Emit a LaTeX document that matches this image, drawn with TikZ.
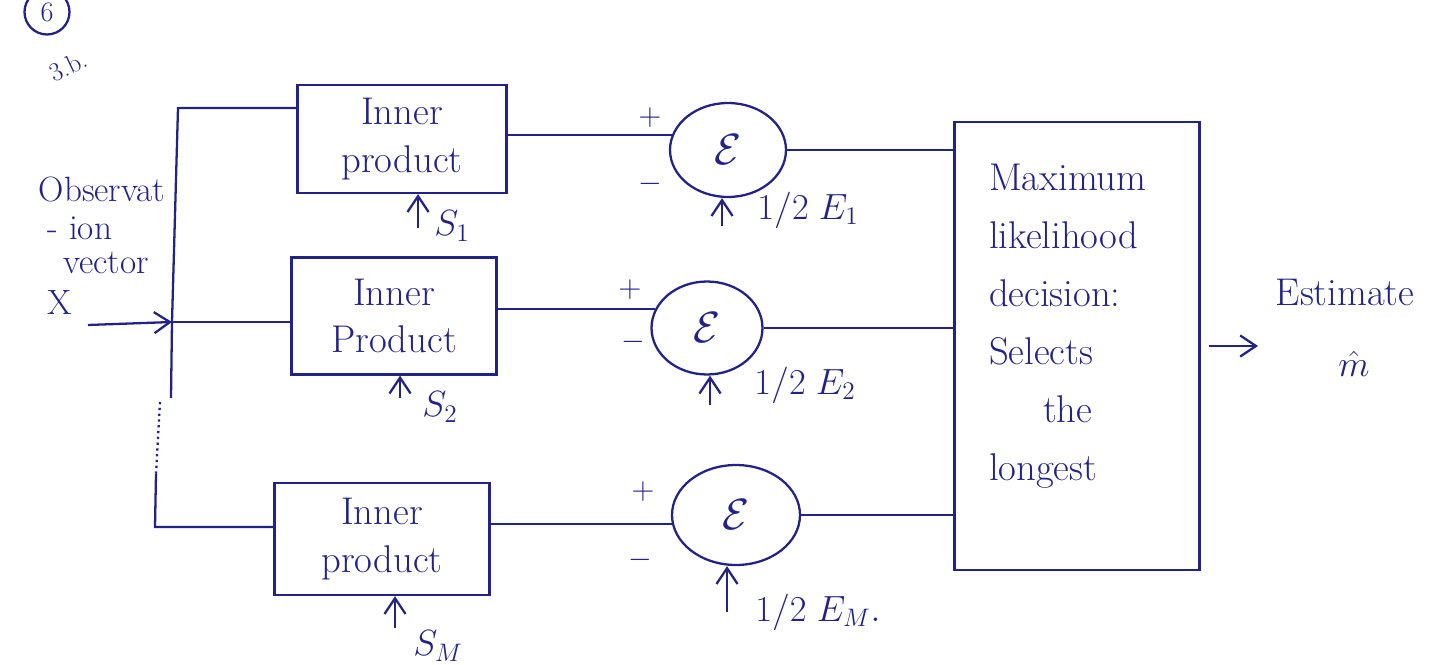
\documentclass[tikz,border=0pt]{standalone}
\usetikzlibrary{arrows.meta,shapes.geometric}
\definecolor{ink}{RGB}{35,35,135}
\begin{document}
\begin{tikzpicture}[x=0.02cm,y=-0.02cm, line width=1.3pt, ink,
  every node/.style={text=ink, font=\fontsize{22}{27}\selectfont},
  box/.style={draw, rectangle, align=center, inner sep=0pt},
  summer/.style={draw, ellipse, inner sep=0pt},
  arr/.style={-{Straight Barb[length=9pt,width=12pt]}},
  sign/.style={font=\fontsize{18}{18}\selectfont},
  lbl/.style={font=\fontsize{20}{24}\selectfont},
  sig/.style={font=\fontsize{36}{36}\selectfont}]
\useasboundingbox (0,0) rectangle (1447,665);

% page number marks
\node[draw, circle, minimum size=0.9cm, inner sep=0pt, font=\fontsize{16}{16}\selectfont] (pg) at (47,12) {6};
\node[rotate=25, font=\fontsize{15}{15}\selectfont, inner sep=1pt] (sec) at (68,66) {3.b.};

% inner product boxes
\node[box, minimum width=4.18cm, minimum height=2.16cm] (b1) at (402,139) {Inner\\product};
\node[box, minimum width=4.1cm, minimum height=2.34cm] (b2) at (394,316) {Inner\\Product};
\node[box, minimum width=4.3cm, minimum height=2.24cm] (b3) at (382,539) {Inner\\product};

% summers
\node[summer, minimum width=2.32cm, minimum height=1.88cm, sig] (c1) at (728,150) {$\mathcal{E}$};
\node[summer, minimum width=2.22cm, minimum height=1.86cm, sig] (c2) at (707,328) {$\mathcal{E}$};
\node[summer, minimum width=2.56cm, minimum height=2.0cm, sig] (c3) at (736,515) {$\mathcal{E}$};

% decision box
\node[box, minimum width=4.9cm, minimum height=8.96cm] (bb) at (1077,346) {};
\node[align=left, anchor=west, font=\fontsize{22}{33}\selectfont] (bbt) at (982,326)
  {Maximum\\likelihood\\decision:\\Selects\\\hspace{1.4em}the\\longest};

% left labels
\node[lbl] (obs) at (102,190) {Observat};
\node[lbl] (ion) at (80,228) {- ion};
\node[lbl] (vec) at (106,263) {vector};
\node[lbl] (xl) at (60,303) {X};

% bus
\coordinate (t1) at (178,108);
\coordinate (j) at (172,322);
\coordinate (d1) at (171,398);
\coordinate (d2) at (160,402);
\coordinate (d3) at (156,474);
\coordinate (t3) at (155,527);
\coordinate (xin) at (88,325);
\draw (t1 -| b1.west) -- (t1) -- (j) -- (d1);
\draw[dotted] (d2) -- (d3);
\draw (d3) -- (t3) -- (t3 -| b3.west);
\draw (j) -- (j -| b2.west);
\draw[arr] (xin) -- (j);

% boxes to summers
\draw (c1.165 -| b1.east) -- (c1.165);
\draw (c2.160 -| b2.east) -- (c2.160);
\draw (c3.188 -| b3.east) -- (c3.188);

% signs
\node[sign] (p1) at (650,118) {+};
\node[sign] (m1) at (650,184) {$-$};
\node[sign] (p2) at (630,290) {+};
\node[sign] (m2) at (633,342) {$-$};
\node[sign] (p3) at (643,492) {+};
\node[sign] (m3) at (640,560) {$-$};

% summers to decision
\draw (c1.east) -- (c1.east -| bb.west);
\draw (c2.east) -- (c2.east -| bb.west);
\draw (c3.east) -- (c3.east -| bb.west);

% energy inputs
\node[lbl] (e1) at (808,210) {$1/2\;E_1$};
\node[lbl] (e2) at (805,385) {$1/2\;E_2$};
\node[lbl] (e3) at (818,612) {$1/2\;E_M.$};
\coordinate (a1) at (722,226);
\coordinate (a2) at (710,405);
\coordinate (a3) at (727,612);
\draw[arr] (a1) -- (a1 |- c1.south);
\draw[arr] (a2) -- (a2 |- c2.south);
\draw[arr] (a3) -- (a3 |- c3.south);

% signal inputs
\node[lbl] (s1) at (452,226) {$S_1$};
\node[lbl] (s2) at (440,407) {$S_2$};
\node[lbl] (sM) at (438,646) {$S_M$};
\coordinate (q1) at (418,228);
\coordinate (q2) at (400,398);
\coordinate (q3) at (395,628);
\draw[arr] (q1) -- (q1 |- b1.south);
\draw[arr] (q2) -- (q2 |- b2.south);
\draw[arr] (q3) -- (q3 |- b3.south);

% output
\coordinate (out) at (1258,346);
\draw[arr] ([xshift=0.16cm]bb.east) -- (out);
\node[inner sep=1pt] (est) at (1345,292) {Estimate};
\node[inner sep=1pt] (mh) at (1354,364) {$\hat{m}$};
\end{tikzpicture}
\end{document}
